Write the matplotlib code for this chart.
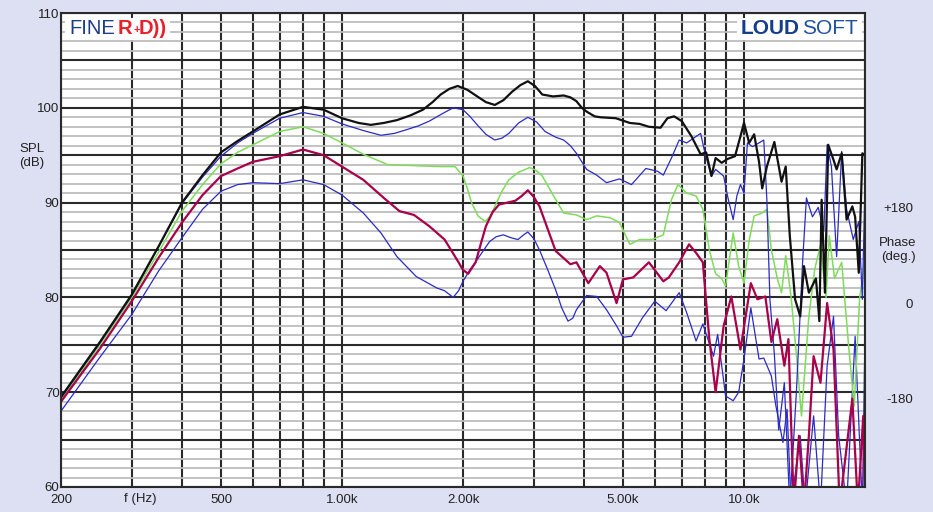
import numpy as np
import matplotlib.pyplot as plt
from matplotlib.patches import Rectangle
from matplotlib.ticker import NullLocator

plt.rcParams['font.family'] = ['Liberation Sans', 'DejaVu Sans']

# SPL curves (Hz, dB)
black_f = [200, 250, 300, 350, 400, 450, 500, 550, 600, 700, 800, 900, 1000, 1100, 1180, 1270, 1370, 1480,
           1590, 1680, 1760, 1850, 1940, 2050, 2170, 2280, 2400, 2520, 2650, 2780, 2900, 3020, 3150, 3350,
           3560, 3700, 3830, 3950, 4060, 4250, 4400, 4800, 5200, 5500, 5800, 6200, 6450, 6700,
           7000, 7400, 7800, 8050, 8300, 8500, 8800, 9100, 9500, 9800, 10000, 10300, 10600, 10900, 11100,
           11400, 11900, 12400, 12700, 13000, 13400, 13800, 14100, 14500, 15100, 15400, 15600, 15900, 16200,
           16700, 17000, 17500, 18000, 18600, 18900, 19300, 19700, 20000]
black_db = [69.5, 75.3, 80.3, 85.4, 90.0, 92.9, 95.3, 96.5, 97.5, 99.3, 100.1, 99.8, 98.9, 98.4, 98.2, 98.4,
            98.7, 99.2, 99.8, 100.6, 101.4, 102.0, 102.3, 101.9, 101.2, 100.6, 100.3, 100.8, 101.7, 102.4,
            102.8, 102.3, 101.4, 101.2, 101.3, 101.1, 100.7, 100.0, 99.6, 99.1, 99.0, 98.9, 98.4, 98.3, 98.0,
            97.9, 98.9, 99.1, 98.6, 97.0, 95.1, 95.3, 92.8, 94.7, 94.2, 94.6, 94.9, 97.0, 98.4, 96.3, 97.2,
            94.3, 91.5, 93.8, 96.4, 92.2, 93.8, 86.5, 79.8, 78.0, 83.3, 80.5, 82.0, 77.5, 90.3, 80.5, 96.1,
            94.5, 93.5, 95.2, 88.2, 89.6, 88.5, 82.6, 95.2, 95.0]

ub_f = [200, 250, 300, 350, 400, 450, 500, 550, 600, 700, 800, 900, 1000, 1130, 1250, 1350, 1450, 1550, 1650,
        1780, 1890, 2000, 2080, 2170, 2280, 2400, 2500, 2600, 2750, 2900, 3050, 3200, 3400, 3560, 3700, 3830,
        3950, 4060, 4300, 4550, 4900, 5250, 5700, 6100, 6300, 6600, 6900,
        7200, 7800, 8000, 8300, 8500, 8900, 9100, 9400, 9600, 9800, 10000, 10200, 10500, 10900, 11200, 11400,
        11600, 11900, 12200, 12600, 13000, 13500, 14000, 14300, 14800, 15300, 15800, 16100, 16500, 17000,
        17500, 18000, 18700, 19300, 19700, 20000]
ub_db = [69.4, 75.2, 80.2, 85.4, 89.9, 92.7, 94.9, 96.3, 97.3, 98.9, 99.5, 99.1, 98.3, 97.6, 97.1, 97.3, 97.7,
         98.1, 98.6, 99.4, 100.0, 99.8, 99.1, 98.2, 97.2, 96.6, 96.8, 97.3, 98.4, 99.0, 98.5, 97.5, 96.9, 96.6,
         96.0, 95.2, 94.3, 93.5, 92.9, 92.1, 92.5, 91.9, 93.6, 93.3, 92.9,
         94.7, 96.6, 96.3, 97.3, 95.2, 92.8, 93.5, 92.8, 90.7, 88.2, 90.7, 91.9, 91.0, 96.3, 95.9, 96.3, 96.6,
         90.3, 79.8, 74.0, 66.0, 71.0, 58.0, 70.0, 84.0, 90.5, 88.5, 89.5, 87.0, 96.1, 93.8, 84.3, 95.4, 89.3,
         86.1, 88.0, 79.8, 92.0]

green_f = [200, 250, 300, 350, 400, 450, 500, 550, 600, 700, 800, 900, 1000, 1130, 1300, 1510, 1760, 1910, 2000,
           2050, 2100, 2180, 2270, 2340, 2400, 2500, 2600, 2750, 2930, 3040, 3150, 3350, 3560, 3830, 4060, 4300,
           4650, 4900, 5200, 5500, 5900, 6300, 6600,
           6850, 7200, 7600, 7900, 8200, 8500, 8800, 9000, 9400, 9700, 10000, 10300, 10600, 11100, 11400, 11700,
           12100, 12400, 12700, 13100, 13500, 13900, 14500, 15000, 15500, 16000, 16300, 16800, 17500, 18200,
           18800, 19400, 20000]
green_db = [69.2, 75.0, 80.0, 84.8, 89.1, 91.9, 94.1, 95.3, 96.1, 97.5, 98.0, 97.3, 96.3, 95.1, 94.0, 93.9, 93.8,
            93.8, 92.8, 91.5, 90.0, 88.6, 88.0, 88.6, 89.6, 91.2, 92.4, 93.2, 93.7, 93.4, 92.8, 90.8, 88.9, 88.7,
            88.2, 88.6, 88.4, 87.9, 85.6, 86.1, 86.1,
            86.6, 90.3, 91.9, 91.0, 90.7, 89.3, 85.0, 82.5, 82.0, 81.2, 86.8, 83.3, 81.5, 86.0, 88.6, 88.9, 89.3,
            85.0, 82.0, 80.5, 84.4, 80.0, 74.0, 67.5, 78.0, 83.0, 85.5, 80.0, 86.5, 82.0, 83.7, 75.0, 68.5, 80.0,
            84.0]

red_f = [200, 250, 300, 350, 400, 450, 500, 550, 600, 700, 800, 900, 1000, 1130, 1270, 1390, 1510, 1650, 1800,
         1950, 2000, 2060, 2150, 2220, 2280, 2370, 2460, 2580, 2700, 2800, 2900, 3000, 3100, 3250, 3400, 3700,
         3830, 4100, 4380, 4550, 4820, 5000, 5300,
         5800, 6300, 6500, 6900, 7300, 7600, 7900, 8200, 8500, 8900, 9300, 9800, 10400, 10800, 11300, 11700,
         12100, 12600, 12900, 13300, 13700, 14100, 14500, 14900, 15500, 16100, 16700, 17300, 18600, 19200,
         19800, 20000]
red_db = [69.0, 74.6, 79.6, 84.2, 87.9, 90.8, 92.8, 93.6, 94.3, 94.9, 95.6, 95.0, 93.8, 92.4, 90.5, 89.1, 88.7,
          87.5, 86.1, 83.7, 82.9, 82.5, 83.7, 85.8, 87.5, 89.0, 89.8, 90.0, 90.2, 90.7, 91.3, 90.6, 89.6, 87.2,
          84.9, 83.5, 83.7, 81.5, 83.3, 82.6, 79.4, 81.9, 82.1, 83.7, 81.7, 82.1, 83.7, 85.6, 84.7, 83.7, 75.6,
          70.0, 77.0, 80.1, 74.5, 81.5, 79.8, 80.1, 75.3, 77.7, 72.8, 75.6, 58.0, 65.4, 58.0, 65.4, 73.8, 71.0,
          79.4, 74.5, 58.0, 69.3, 58.0, 67.5, 58.0]

lb_f = [200, 250, 300, 350, 400, 450, 500, 550, 600, 700, 800, 900, 1000, 1130, 1250, 1370, 1530, 1720, 1800,
        1890, 1950, 2000, 2080, 2170, 2330, 2420, 2520, 2630, 2740, 2830, 2900, 3000, 3100, 3250, 3400, 3520,
        3650, 3750, 3830, 4060, 4300, 4550, 4820, 5000, 5250,
        5600, 6000, 6400, 6900, 7200, 7600, 7900, 8400, 8600, 9000, 9400, 9700, 10000, 10400, 10900, 11200,
        11700, 12000, 12500, 12800, 13100, 13800, 14200, 14900, 15500, 16100, 16700, 17200, 18000, 18900,
        19700, 20000]
lb_db = [68.0, 73.7, 78.2, 82.8, 86.3, 89.3, 91.2, 91.9, 92.1, 92.0, 92.4, 91.9, 90.8, 88.9, 86.8, 84.3, 82.2,
         81.0, 80.7, 80.0, 80.7, 81.7, 82.9, 84.0, 85.9, 86.4, 86.6, 86.3, 86.1, 86.6, 86.9, 86.2, 85.0, 82.9,
         80.8, 78.9, 77.5, 77.8, 78.7, 80.2, 80.1, 78.7, 77.0, 75.8, 75.9,
         77.9, 79.6, 78.6, 80.5, 78.4, 75.4, 77.2, 73.8, 76.1, 69.6, 69.1, 70.0, 73.5, 78.9, 73.5,
         73.6, 71.7, 68.6, 64.7, 68.2, 58.0, 65.4, 58.0, 67.5, 58.0, 72.8, 78.0, 65.4, 58.0, 75.9, 58.0, 76.0]

grid_f = [200, 300, 400, 500, 600, 700, 800, 900, 1000, 2000, 3000, 4000, 5000, 6000, 7000, 8000, 9000,
          10000, 20000]
f_labels = {200: '200', 500: '500', 1000: '1.00k', 2000: '2.00k', 5000: '5.00k', 10000: '10.0k'}

W, H = 933, 512
bg = '#dde0f2'
dark = '#2a2a2a'
txt = '#222222'

fig = plt.figure(figsize=(W / 100, H / 100), dpi=100, facecolor=bg)
ax = fig.add_axes([61 / W, 25 / H, 804 / W, 474 / H])
ax.set_facecolor('white')

ax.set_xscale('log')
ax.set_xlim(200, 20000)
ax.set_ylim(60, 110)

ax.set_xticks(grid_f)
ax.set_xticklabels([f_labels.get(f, '') for f in grid_f])
ax.xaxis.set_minor_locator(NullLocator())
ax.set_yticks(np.arange(60, 111, 5))
ax.set_yticklabels([str(v) if v % 10 == 0 else '' for v in range(60, 111, 5)])
ax.set_yticks(np.arange(60, 111, 1), minor=True)

ax.set_axisbelow(True)
ax.grid(axis='x', which='major', color=dark, lw=1.5)
ax.grid(axis='y', which='major', color=dark, lw=1.5)
ax.grid(axis='y', which='minor', color='#bdbdbd', lw=1.3)
ax.tick_params(which='both', length=0, labelsize=9.5, colors=txt)
ax.tick_params(axis='x', pad=5)
ax.tick_params(axis='y', pad=1)
for s in ax.spines.values():
    s.set_color(dark)
    s.set_linewidth(1.5)

ax.plot(lb_f, lb_db, color='#2a2ac8', lw=0.9)
ax.plot(green_f, green_db, color='#7ddc5a', lw=1.1)
ax.plot(ub_f, ub_db, color='#2a2ac8', lw=0.9)
ax.plot(red_f, red_db, color='#a8004a', lw=1.6)
ax.plot(black_f, black_db, color='#111111', lw=1.6)

# white boxes behind the logos
for x0, x1 in [(65, 170), (737, 862)]:
    ax.add_patch(Rectangle((x0 / W, 1 - 40 / H), (x1 - x0) / W, 22 / H, transform=fig.transFigure,
                           facecolor='white', edgecolor='none', zorder=1))

fig.text(69 / W, 1 - 29 / H, 'FINE', color='#1c3c8c', fontsize=14.5, va='center')
fig.text(118 / W, 1 - 29 / H, 'R', color='#e8202a', fontsize=14.5, fontweight='bold', va='center')
fig.text(133 / W, 1 - 30 / H, '+', color='#e8202a', fontsize=8, fontweight='bold', va='center')
fig.text(139 / W, 1 - 29 / H, 'D))', color='#e8202a', fontsize=14.5, fontweight='bold', va='center')
fig.text(741 / W, 1 - 28 / H, 'LOUD', color='#143d8d', fontsize=15, fontweight='bold', va='center')
fig.text(802 / W, 1 - 28 / H, 'SOFT', color='#1f4f9f', fontsize=15, va='center')

fig.text(140 / W, 1 - 499 / H, 'f (Hz)', fontsize=9.5, ha='center', va='center', color=txt)
fig.text(32 / W, 1 - 156 / H, 'SPL\n(dB)', fontsize=9.5, ha='center', va='center', color=txt)
fig.text(898 / W, 1 - 250 / H, 'Phase\n(deg.)', fontsize=9.5, ha='center', va='center', color=txt)
fig.text(913 / W, 1 - 209 / H, '+180', fontsize=9.5, ha='right', va='center', color=txt)
fig.text(913 / W, 1 - 305 / H, '0', fontsize=9.5, ha='right', va='center', color=txt)
fig.text(913 / W, 1 - 400 / H, '-180', fontsize=9.5, ha='right', va='center', color=txt)

fig.savefig('out.png', dpi=100, facecolor=bg)
